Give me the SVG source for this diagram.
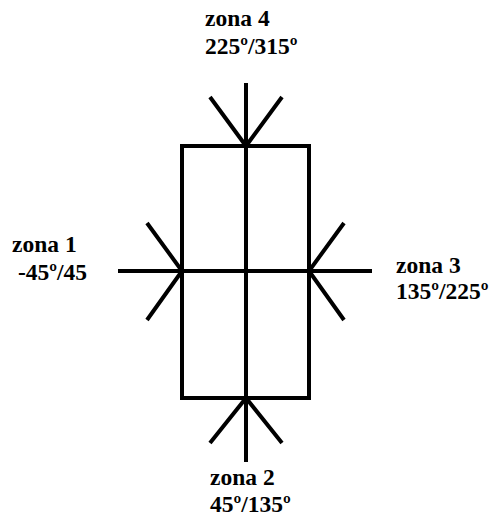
<svg xmlns="http://www.w3.org/2000/svg" width="494" height="520" viewBox="0 0 494 520">
<style>
.ln{stroke:#000;stroke-width:4;fill:none;stroke-linecap:butt}
.t{font-family:"Liberation Serif","Times New Roman",serif;font-weight:bold;font-size:23.5px;fill:#000}
</style>
<rect width="494" height="520" fill="#fff"/>
<g id="body">
<rect class="ln" x="182" y="146" width="127" height="252"/>
</g>
<g id="connectors">
<line class="ln" x1="246" y1="83" x2="246" y2="462"/>
<line class="ln" x1="118" y1="271" x2="372" y2="271"/>
<polyline class="ln" points="210,97 246,146 282,97"/>
<polyline class="ln" points="210,443 246,398 282,443"/>
<polyline class="ln" points="147,223 182,271 147,320"/>
<polyline class="ln" points="344,223 309,271 344,320"/>
</g>
<g id="zona4"><text class="t" x="205" y="26">zona 4</text><text class="t" x="205" y="54">225º/315º</text></g>
<g id="zona1"><text class="t" x="12" y="252">zona 1</text><text class="t" x="18" y="280">-45º/45</text></g>
<g id="zona3"><text class="t" x="396" y="273">zona 3</text><text class="t" x="396" y="299">135º/225º</text></g>
<g id="zona2"><text class="t" x="210" y="485">zona 2</text><text class="t" x="210" y="512">45º/135º</text></g>
</svg>
